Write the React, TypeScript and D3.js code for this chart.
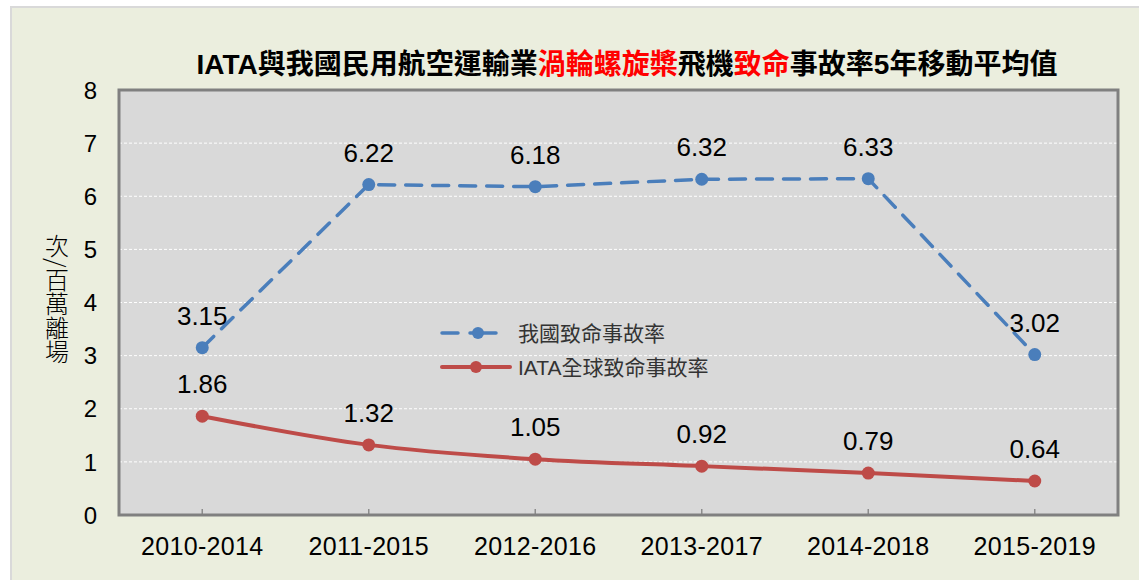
import React from "react";
import * as d3 from "d3";

const categories = ["2010-2014", "2011-2015", "2012-2016", "2013-2017", "2014-2018", "2015-2019"];
const taiwanRates = [3.15, 6.22, 6.18, 6.32, 6.33, 3.02];
const iataRates = [1.86, 1.32, 1.05, 0.92, 0.79, 0.64];
const yTicks = [0, 1, 2, 3, 4, 5, 6, 7, 8];
const seriesNames = ["我國致命事故率", "IATA全球致命事故率"];
const titleParts = [
  { t: "IATA", red: false },
  { t: "與我國民用航空運輸業", red: false },
  { t: "渦輪螺旋槳", red: true },
  { t: "飛機", red: false },
  { t: "致命", red: true },
  { t: "事故率", red: false },
  { t: "5", red: false },
  { t: "年移動平均值", red: false },
];
const yLabel = "次/百萬離場";

const W = 1139, H = 580;
const plot = { left: 119, top: 90, right: 1118, bottom: 515 };
const BLUE = "#4A7EBB";
const RED = "#BE4B48";
const LATIN = "'Liberation Sans', Arial, 'Noto Sans CJK TC', sans-serif";
const CJK = "'Liberation Sans', 'Noto Sans CJK TC', sans-serif";

export default function App() {
  const x = d3.scaleBand<string>().domain(categories).range([plot.left, plot.right]);
  const y = d3.scaleLinear().domain([0, 8]).range([plot.bottom, plot.top]);
  const cx = (c: string) => (x(c) as number) + x.bandwidth() / 2;

  const lineBlue = d3.line<number>().x((_, i) => cx(categories[i])).y((d) => y(d));
  const lineRed = d3
    .line<number>()
    .x((_, i) => cx(categories[i]))
    .y((d) => y(d))
    .curve(d3.curveMonotoneX);

  return (
    <svg width={W} height={H} style={{ position: "absolute", left: 0, top: 0 }}>
      <rect x={0} y={0} width={W} height={H} fill="#ffffff" />
      <rect x={11} y={7} width={W + 20} height={H + 20} fill="#EBEEDE" stroke="#D9D9D9" strokeWidth={2} />
      {/* title */}
      <text x={627} y={74} textAnchor="middle" fontSize={28} fontWeight="bold" fontFamily={CJK} fill="#000">
        {titleParts.map((p, i) => (
          <tspan key={i} fill={p.red ? "#FF0000" : "#000"}>{p.t}</tspan>
        ))}
      </text>
      {/* plot area */}
      <rect x={plot.left} y={plot.top} width={plot.right - plot.left} height={plot.bottom - plot.top} fill="#D9D9D9" />
      {yTicks.slice(1, -1).map((t) => (
        <line key={t} x1={plot.left} x2={plot.right} y1={y(t)} y2={y(t)} stroke="#ffffff" strokeWidth={1} strokeDasharray="3,2" />
      ))}
      {categories.map((c) => (
        <line key={c} x1={cx(c)} x2={cx(c)} y1={plot.bottom} y2={plot.bottom - 6} stroke="#8C8C8C" strokeWidth={1.5} />
      ))}
      <rect x={plot.left} y={plot.top} width={plot.right - plot.left} height={plot.bottom - plot.top} fill="none" stroke="#808080" strokeWidth={3} />
      {/* y ticks */}
      {yTicks.map((t) => (
        <text key={t} x={97} y={y(t)} dy="0.36em" textAnchor="end" fontSize={24} fontFamily={LATIN} fill="#000">{t}</text>
      ))}
      {/* x labels */}
      {categories.map((c) => (
        <text key={c} x={cx(c)} y={555} textAnchor="middle" fontSize={25} fontFamily={LATIN} fill="#000" style={{ letterSpacing: "0.3px" }}>{c}</text>
      ))}
      {/* y label */}
      <text x={57} y={234} fontSize={24} fontWeight={300} fontFamily="'Noto Sans CJK TC', sans-serif" fill="#000" style={{ writingMode: "vertical-rl" as any }}>{yLabel}</text>
      {/* series */}
      <path d={lineRed(iataRates) || ""} fill="none" stroke={RED} strokeWidth={4} strokeLinecap="round" />
      {iataRates.map((v, i) => (
        <circle key={i} cx={cx(categories[i])} cy={y(v)} r={6.5} fill={RED} />
      ))}
      <path d={lineBlue(taiwanRates) || ""} fill="none" stroke={BLUE} strokeWidth={3.5} strokeDasharray="16,11" strokeLinecap="round" />
      {taiwanRates.map((v, i) => (
        <circle key={i} cx={cx(categories[i])} cy={y(v)} r={6.5} fill={BLUE} />
      ))}
      {/* data labels */}
      {taiwanRates.map((v, i) => (
        <text key={i} x={cx(categories[i])} y={y(v) - 23} textAnchor="middle" fontSize={26} fontFamily={LATIN} fill="#000">{v.toFixed(2)}</text>
      ))}
      {iataRates.map((v, i) => (
        <text key={i} x={cx(categories[i])} y={y(v) - 23} textAnchor="middle" fontSize={26} fontFamily={LATIN} fill="#000">{v.toFixed(2)}</text>
      ))}
      {/* legend */}
      <g>
        <line x1={442} x2={458} y1={333} y2={333} stroke={BLUE} strokeWidth={3.5} strokeLinecap="round" />
        <line x1={470} x2={496} y1={333} y2={333} stroke={BLUE} strokeWidth={3.5} strokeLinecap="round" />
        <circle cx={478} cy={333} r={6} fill={BLUE} />
        <text x={518} y={333} dy="0.36em" fontSize={21} fontFamily={CJK} fill="#333">{seriesNames[0]}</text>
        <line x1={442} x2={510} y1={367} y2={367} stroke={RED} strokeWidth={4} strokeLinecap="round" />
        <circle cx={476} cy={367} r={6} fill={RED} />
        <text x={518} y={367} dy="0.36em" fontSize={21} fontFamily={CJK} fill="#333">{seriesNames[1]}</text>
      </g>
    </svg>
  );
}
